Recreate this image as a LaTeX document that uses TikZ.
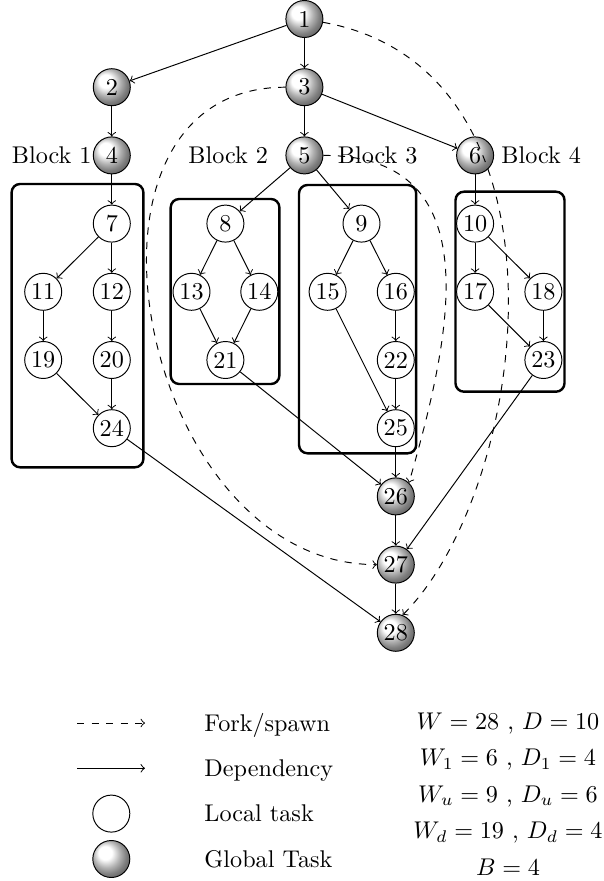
\documentclass[tikz,border=0pt]{standalone}
\usetikzlibrary{shadings}
\begin{document}
\begin{tikzpicture}[x=0.4135pt, y=-0.4135pt]
\tikzset{
  task/.style={circle, draw, inner sep=0pt, minimum size=15.3pt},
  localtask/.style={task, fill=white},
  globaltask/.style={task, shading=ball, ball color=white},
  dep/.style={->},
  fork/.style={->, dashed},
  blockbox/.style={line width=1pt, rounded corners=3.5pt},
  lbl/.style={inner sep=0pt}
}
\useasboundingbox (0,0) rectangle (603,881);

% blocks
\draw[blockbox] (11.6,184) rectangle (143.4,467.3);
\draw[blockbox] (170.7,199) rectangle (279.4,384);
\draw[blockbox] (299,185) rectangle (416.2,453.3);
\draw[blockbox] (455.5,191.7) rectangle (564.5,391.7);

% global tasks
\node[globaltask] (n1) at (304.4,19) {1};
\node[globaltask] (n2) at (111.8,87.2) {2};
\node[globaltask] (n3) at (304.4,87.2) {3};
\node[globaltask] (n4) at (111.8,155.4) {4};
\node[globaltask] (n5) at (304.4,155.4) {5};
\node[globaltask] (n6) at (475.1,155.4) {6};
\node[globaltask] (n26) at (395.8,496.4) {26};
\node[globaltask] (n27) at (395.8,564.6) {27};
\node[globaltask] (n28) at (395.8,632.8) {28};

% local tasks
\node[localtask] (n7) at (111.8,223.6) {7};
\node[localtask] (n8) at (225.4,223.6) {8};
\node[localtask] (n9) at (361.5,223.6) {9};
\node[localtask] (n10) at (475.1,223.6) {10};
\node[localtask] (n11) at (43.2,291.8) {11};
\node[localtask] (n12) at (111.8,291.8) {12};
\node[localtask] (n13) at (191.5,291.8) {13};
\node[localtask] (n14) at (259.3,291.8) {14};
\node[localtask] (n15) at (327.6,291.8) {15};
\node[localtask] (n16) at (395.8,291.8) {16};
\node[localtask] (n17) at (475.1,291.8) {17};
\node[localtask] (n18) at (543.4,291.8) {18};
\node[localtask] (n19) at (43.2,360) {19};
\node[localtask] (n20) at (111.8,360) {20};
\node[localtask] (n21) at (225.4,360) {21};
\node[localtask] (n22) at (395.8,360) {22};
\node[localtask] (n23) at (543.4,360) {23};
\node[localtask] (n24) at (111.8,428.2) {24};
\node[localtask] (n25) at (395.8,428.2) {25};

% block labels
\node[lbl, anchor=base west] (b1) at (11.5,163.2) {Block 1};
\node[lbl, anchor=base west] (b2) at (188,163.2) {Block 2};
\node[lbl, anchor=base west] (b3) at (337.5,163.2) {Block 3};
\node[lbl, anchor=base west] (b4) at (501,163.2) {Block 4};

% dependencies
\foreach \a/\b in {n1/n2, n1/n3, n2/n4, n3/n5, n3/n6, n4/n7, n5/n8, n5/n9, n6/n10,
  n7/n11, n7/n12, n11/n19, n12/n20, n19/n24, n20/n24,
  n8/n13, n8/n14, n13/n21, n14/n21,
  n9/n15, n9/n16, n16/n22, n22/n25, n15/n25,
  n10/n17, n10/n18, n17/n23, n18/n23,
  n21/n26, n25/n26, n24/n28, n23/n27, n26/n27, n27/n28}
  \draw[dep] (\a) -- (\b);

% fork / spawn
\draw[fork] (n1) .. controls (583.5,68.9) and (529.7,488.2) .. (n28.69);
\draw[fork] (n3) .. controls (47.9,87.2) and (139.3,564.6) .. (n27);
\draw[fork] (n5) .. controls (492.9,155.4) and (450.1,339) .. (n26.46);

% legend
\coordinate (f1) at (77,723);
\coordinate (f2) at (145,723);
\coordinate (d1) at (77,768.3);
\coordinate (d2) at (145,768.3);
\draw[fork] (f1) -- (f2);
\draw[dep] (d1) -- (d2);
\node[localtask] (lg1) at (111.3,813.6) {};
\node[globaltask] (lg2) at (111.3,859) {};
\node[lbl, anchor=base west] (t1) at (204,731) {Fork/spawn};
\node[lbl, anchor=base west] (t2) at (204,776.3) {Dependency};
\node[lbl, anchor=base west] (t3) at (204,821.6) {Local task};
\node[lbl, anchor=base west] (t4) at (204,867) {Global Task};

% measures
\node[lbl, anchor=base] (e1) at (508,729) {$W=28$ , $D=10$};
\node[lbl, anchor=base] (e2) at (508,765.5) {$W_1=6$ , $D_1=4$};
\node[lbl, anchor=base] (e3) at (508,802) {$W_u=9$ , $D_u=6$};
\node[lbl, anchor=base] (e4) at (508,838.5) {$W_d=19$ , $D_d=4$};
\node[lbl, anchor=base] (e5) at (508,875) {$B=4$};
\end{tikzpicture}
\end{document}
